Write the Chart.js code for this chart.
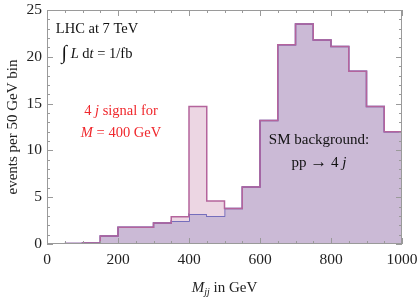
<!DOCTYPE html>
<html lang="en">
<head>
  <meta charset="UTF-8">
  <title>Mjj histogram</title>
  <script src="https://cdn.jsdelivr.net/npm/chart.js"></script>
  <style>
    html, body { margin: 0; padding: 0; background: #fff; }
    #wrap { width: 417px; height: 301px; position: relative; }
  </style>
</head>
<body>
<div id="wrap"><canvas id="chart" width="417" height="301"></canvas></div>
<script>
  // lower bin edges (GeV), 50 GeV bins
  const binLow = [50, 100, 150, 200, 250, 300, 350, 400, 450, 500, 550, 600, 650, 700, 750, 800, 850, 900, 950];
  const binEnd = 1000;
  // SM background pp -> 4j
  const background = [0.05, 0.1, 0.85, 1.8, 1.8, 2.25, 2.45, 3.2, 3.0, 3.8, 6.1, 13.2, 21.3, 23.5, 21.8, 21.1, 18.45, 14.7, 12.0];
  // signal + background
  const total = [0.05, 0.1, 0.85, 1.8, 1.8, 2.25, 2.9, 14.7, 4.6, 3.8, 6.1, 13.2, 21.3, 23.5, 21.8, 21.1, 18.45, 14.7, 12.0];
  const xTicks = [0, 200, 400, 600, 800, 1000];
  const yTicks = [0, 5, 10, 15, 20, 25];

  // histogram points: left edges + closing right edge
  function steps(vals) {
    const pts = binLow.map((x, i) => ({ x: x, y: vals[i] }));
    pts.push({ x: binEnd, y: vals[vals.length - 1] });
    return pts;
  }

  const serif = '"Liberation Serif", "DejaVu Serif", serif';
  const frameColor = '#9a9a9a';

  // draw a line of mixed roman/italic text, centered at (cx, cy)
  function runs(ctx, parts, cx, cy, size, color) {
    ctx.save();
    ctx.fillStyle = color;
    ctx.textBaseline = 'middle';
    let w = 0;
    parts.forEach(p => {
      ctx.font = (p.i ? 'italic ' : '') + (p.s || size) + 'px ' + serif;
      w += ctx.measureText(p.t).width;
    });
    let x = cx - w / 2;
    parts.forEach(p => {
      ctx.font = (p.i ? 'italic ' : '') + (p.s || size) + 'px ' + serif;
      ctx.textAlign = 'left';
      ctx.fillText(p.t, x, cy + (p.dy || 0));
      x += ctx.measureText(p.t).width;
    });
    ctx.restore();
  }

  // Mathematica-like frame with inward ticks, labels and annotations
  const framePlugin = {
    id: 'frame',
    afterDraw(chart) {
      const ctx = chart.ctx;
      const a = chart.chartArea;
      const xs = chart.scales.x, ys = chart.scales.y;
      ctx.save();
      ctx.strokeStyle = frameColor;
      ctx.lineWidth = 1;
      ctx.strokeRect(a.left + 0.5, a.top + 0.5, a.right - a.left - 1, a.bottom - a.top - 1);
      ctx.beginPath();
      for (let v = 0; v <= 1000; v += 50) {
        const px = Math.round(xs.getPixelForValue(v)) + 0.5;
        const len = v % 200 === 0 ? 6 : 3;
        ctx.moveTo(px, a.bottom); ctx.lineTo(px, a.bottom - len);
        ctx.moveTo(px, a.top); ctx.lineTo(px, a.top + len);
      }
      for (let v = 0; v <= 25; v += 1) {
        const py = Math.round(ys.getPixelForValue(v)) + 0.5;
        const len = v % 5 === 0 ? 6 : 3;
        ctx.moveTo(a.left, py); ctx.lineTo(a.left + len, py);
        ctx.moveTo(a.right, py); ctx.lineTo(a.right - len, py);
      }
      ctx.stroke();

      // tick labels
      ctx.fillStyle = '#222';
      ctx.font = '15.5px ' + serif;
      ctx.textAlign = 'center';
      ctx.textBaseline = 'middle';
      xTicks.forEach(v => ctx.fillText(String(v), xs.getPixelForValue(v), a.bottom + 16));
      ctx.textAlign = 'right';
      yTicks.forEach(v => ctx.fillText(String(v), a.left - 5, ys.getPixelForValue(v)));

      // axis titles
      runs(ctx, [{ t: 'M', i: true }, { t: 'jj', i: true, s: 10, dy: 4 }, { t: ' in GeV' }],
        (a.left + a.right) / 2, 288, 15, '#222');
      ctx.translate(13, (a.top + a.bottom) / 2);
      ctx.rotate(-Math.PI / 2);
      runs(ctx, [{ t: 'events per 50 GeV bin' }], 0, 0, 15, '#222');
      ctx.restore();

      // annotations
      runs(ctx, [{ t: 'LHC at 7 TeV' }], 97, 29, 14.5, '#111');
      runs(ctx, [{ t: '\u222B', s: 20 }, { t: ' L', i: true }, { t: ' d' }, { t: 't', i: true }, { t: ' = 1/fb' }], 97, 54, 14.5, '#111');
      runs(ctx, [{ t: '4' }, { t: ' j', i: true }, { t: ' signal for' }], 121, 111, 14.5, '#f0282d');
      runs(ctx, [{ t: 'M', i: true }, { t: ' = 400 GeV' }], 121, 133, 14.5, '#f0282d');
      runs(ctx, [{ t: 'SM background:' }], 319, 140, 15, '#111');
      runs(ctx, [{ t: 'pp ' }, { t: '\u2192', s: 17 }, { t: ' 4' }, { t: ' j', i: true }], 319, 163, 15, '#111');
    }
  };

  new Chart(document.getElementById('chart'), {
    type: 'line',
    data: {
      datasets: [
        {
          label: 'signal + background',
          data: steps(total),
          stepped: true,
          borderColor: '#b4649c',
          borderWidth: 1.5,
          backgroundColor: 'rgba(236, 214, 227, 1)',
          fill: 1,
          pointRadius: 0,
          order: 0
        },
        {
          label: 'background',
          data: steps(background),
          stepped: true,
          borderColor: '#5a55b4',
          borderWidth: 1.5,
          backgroundColor: 'rgba(203, 186, 214, 1)',
          fill: 'origin',
          pointRadius: 0,
          order: 1
        }
      ]
    },
    options: {
      responsive: false,
      animation: false,
      layout: { padding: { top: 10, right: 15, left: 0, bottom: 0 } },
      plugins: { legend: { display: false }, tooltip: { enabled: false } },
      scales: {
        x: {
          type: 'linear',
          min: 0, max: 1000,
          grid: { display: false },
          border: { display: false },
          ticks: { display: false },
          afterFit: s => { s.height = 57; }
        },
        y: {
          min: 0, max: 25,
          grid: { display: false },
          border: { display: false },
          ticks: { display: false },
          afterFit: s => { s.width = 47; }
        }
      }
    },
    plugins: [framePlugin]
  });
</script>
</body>
</html>
